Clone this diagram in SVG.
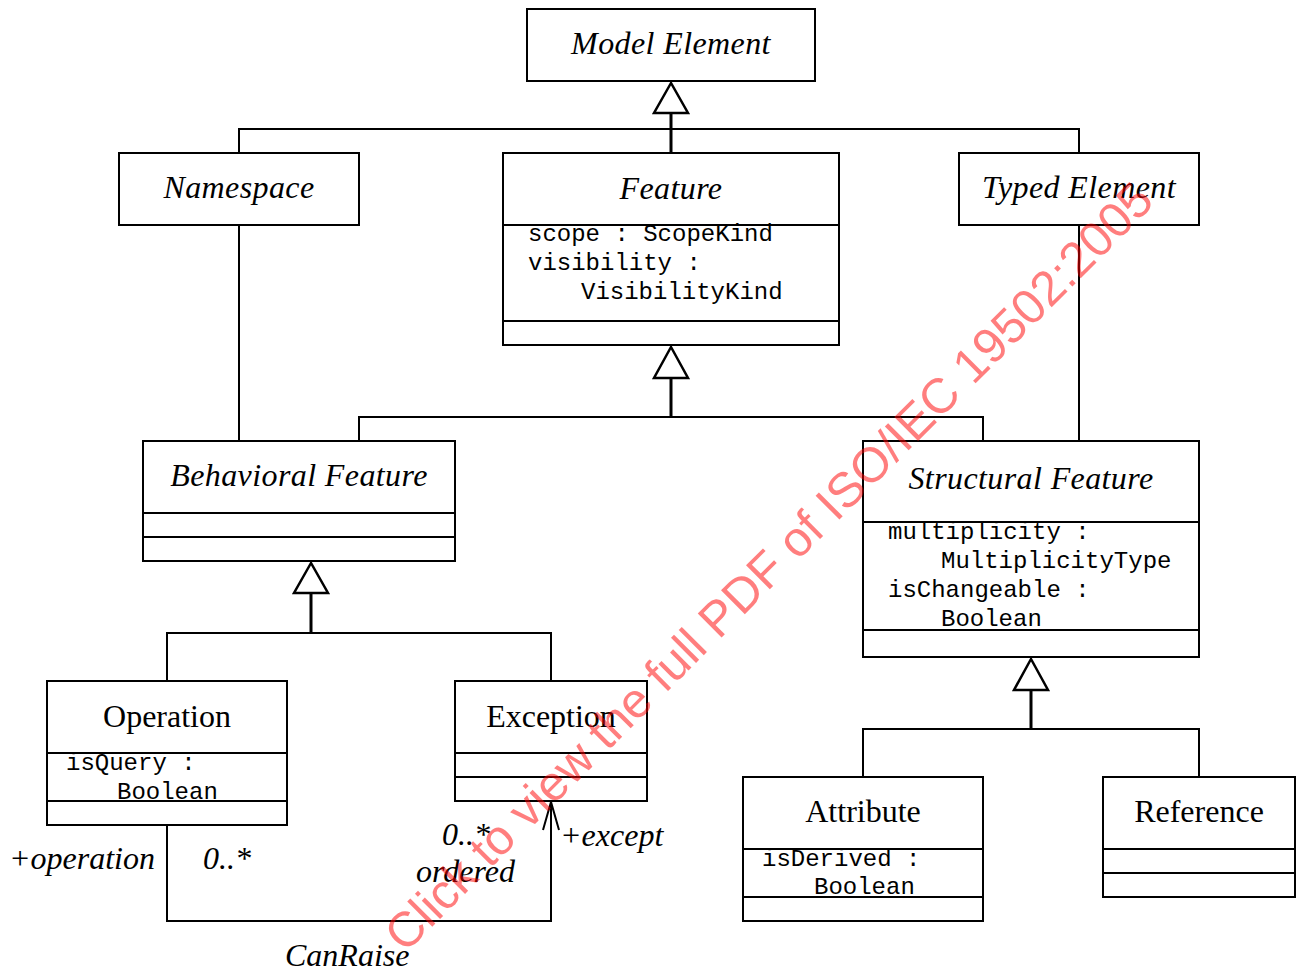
<svg xmlns="http://www.w3.org/2000/svg" width="1302" height="972" viewBox="0 0 1302 972">
<style>
.box{fill:#fff;stroke:#000;stroke-width:2}
.div{stroke:#000;stroke-width:2}
.ln{fill:none;stroke:#000;stroke-width:2}
.stem{fill:none;stroke:#000;stroke-width:3}
.tri{fill:#fff;stroke:#000;stroke-width:2.5;stroke-linejoin:miter}
.ti{font-family:"Liberation Serif","Times New Roman",serif;font-style:italic;font-size:32px;letter-spacing:0.4px;text-anchor:middle;fill:#000}
.tu{font-family:"Liberation Serif","Times New Roman",serif;font-size:32px;text-anchor:middle;fill:#000}
.mono{font-family:"Liberation Mono","Courier New",monospace;font-size:24px;fill:#000}
.lab{font-family:"Liberation Serif","Times New Roman",serif;font-style:italic;font-size:32px;fill:#000}
.wm{font-family:"Liberation Sans",Arial,sans-serif;font-size:49px;fill:#ff0000;opacity:0.5}
</style>
<rect width="1302" height="972" fill="#fff"/>
<g id="connectors">
  <polyline class="ln" points="239,153 239,129 1079,129 1079,153"/>
  <line class="stem" x1="671" y1="113" x2="671" y2="153"/>
  <polygon class="tri" points="671,83 654,113 688,113"/>
  <polyline class="ln" points="359,441 359,417 983,417 983,441"/>
  <line class="stem" x1="671" y1="378" x2="671" y2="417"/>
  <polygon class="tri" points="671,347 654,378 688,378"/>
  <line class="ln" x1="239" y1="225" x2="239" y2="441"/>
  <line class="ln" x1="1079" y1="225" x2="1079" y2="441"/>
  <polyline class="ln" points="167,681 167,633 551,633 551,681"/>
  <line class="stem" x1="311" y1="593" x2="311" y2="633"/>
  <polygon class="tri" points="311,563 294,593 328,593"/>
  <polyline class="ln" points="863,777 863,729 1199,729 1199,777"/>
  <line class="stem" x1="1031" y1="690" x2="1031" y2="729"/>
  <polygon class="tri" points="1031,659 1014,690 1048,690"/>
  <polyline class="ln" points="167,825 167,921 551,921 551,802"/>
  <polyline class="ln" points="543,830 551,802 559,830"/>
  <text class="lab" x="155" y="869" text-anchor="end">+operation</text>
  <text class="lab" x="203" y="869">0..*</text>
  <text class="lab" x="442" y="845">0..*</text>
  <text class="lab" x="416" y="882">ordered</text>
  <text class="lab" x="560" y="846">+except</text>
  <text class="lab" x="285" y="966">CanRaise</text>
</g>
<g id="model-element">
  <rect class="box" x="527" y="9" width="288" height="72"/>
  <text class="ti" x="671" y="54">Model Element</text>
</g>
<g id="namespace">
  <rect class="box" x="119" y="153" width="240" height="72"/>
  <text class="ti" x="239" y="198">Namespace</text>
</g>
<g id="feature">
  <rect class="box" x="503" y="153" width="336" height="192"/>
  <line class="div" x1="503" y1="225" x2="839" y2="225"/>
  <line class="div" x1="503" y1="321" x2="839" y2="321"/>
  <text class="ti" x="671" y="199">Feature</text>
  <text class="mono" x="528" y="241">scope : ScopeKind</text>
  <text class="mono" x="528" y="270">visibility :</text>
  <text class="mono" x="581" y="299">VisibilityKind</text>
</g>
<g id="typed-element">
  <rect class="box" x="959" y="153" width="240" height="72"/>
  <text class="ti" x="1079" y="198">Typed Element</text>
</g>
<g id="behavioral-feature">
  <rect class="box" x="143" y="441" width="312" height="120"/>
  <line class="div" x1="143" y1="513" x2="455" y2="513"/>
  <line class="div" x1="143" y1="537" x2="455" y2="537"/>
  <text class="ti" x="299" y="486">Behavioral Feature</text>
</g>
<g id="structural-feature">
  <rect class="box" x="863" y="441" width="336" height="216"/>
  <line class="div" x1="863" y1="522" x2="1199" y2="522"/>
  <line class="div" x1="863" y1="630" x2="1199" y2="630"/>
  <text class="ti" x="1031" y="489">Structural Feature</text>
  <text class="mono" x="888" y="539">multiplicity :</text>
  <text class="mono" x="941" y="568">MultiplicityType</text>
  <text class="mono" x="888" y="597">isChangeable :</text>
  <text class="mono" x="941" y="626">Boolean</text>
</g>
<g id="operation">
  <rect class="box" x="47" y="681" width="240" height="144"/>
  <line class="div" x1="47" y1="753" x2="287" y2="753"/>
  <line class="div" x1="47" y1="801" x2="287" y2="801"/>
  <text class="tu" x="167" y="727">Operation</text>
  <text class="mono" x="66" y="770">isQuery :</text>
  <text class="mono" x="117" y="799">Boolean</text>
</g>
<g id="exception">
  <rect class="box" x="455" y="681" width="192" height="120"/>
  <line class="div" x1="455" y1="753" x2="647" y2="753"/>
  <line class="div" x1="455" y1="777" x2="647" y2="777"/>
  <text class="tu" x="551" y="727">Exception</text>
</g>
<g id="attribute">
  <rect class="box" x="743" y="777" width="240" height="144"/>
  <line class="div" x1="743" y1="849" x2="983" y2="849"/>
  <line class="div" x1="743" y1="897" x2="983" y2="897"/>
  <text class="tu" x="863" y="822">Attribute</text>
  <text class="mono" x="762" y="866">isDerived :</text>
  <text class="mono" x="814" y="894">Boolean</text>
</g>
<g id="reference">
  <rect class="box" x="1103" y="777" width="192" height="120"/>
  <line class="div" x1="1103" y1="849" x2="1295" y2="849"/>
  <line class="div" x1="1103" y1="873" x2="1295" y2="873"/>
  <text class="tu" x="1199" y="822">Reference</text>
</g>
<g id="watermark">
  <text class="wm" x="405" y="954" transform="rotate(-45 405 954)">Click to view the full PDF of ISO/IEC 19502:2005</text>
</g>
</svg>
